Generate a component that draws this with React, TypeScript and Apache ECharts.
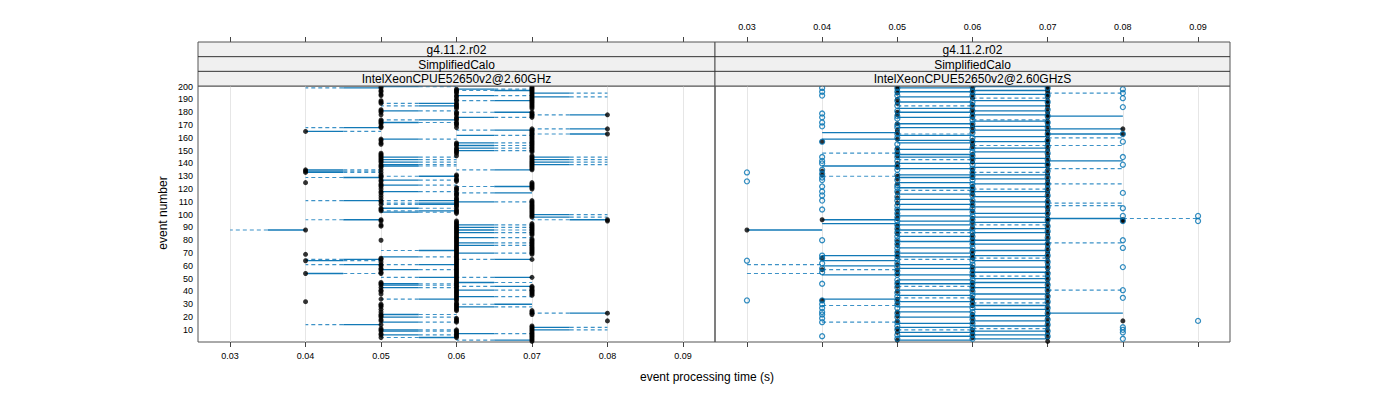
import React, { useEffect, useRef } from "react";
import * as echarts from "echarts";

// ---------- text / ticks ----------
const xTickValues = [0.03, 0.04, 0.05, 0.06, 0.07, 0.08, 0.09];
const yTickValues = [10, 20, 30, 40, 50, 60, 70, 80, 90, 100, 110, 120, 130, 140, 150, 160, 170, 180, 190, 200];
const stripTopLabels = ["g4.11.2.r02", "g4.11.2.r02"];
const stripMidLabels = ["SimplifiedCalo", "SimplifiedCalo"];
const stripBottomLabels = ["IntelXeonCPUE52650v2@2.60GHz", "IntelXeonCPUE52650v2@2.60GHzS"];
const xAxisTitle = "event processing time (s)";
const yAxisTitle = "event number";

// ---------- left panel data (times in ms) ----------
// [event, own time, other time]
const leftSegments = [
  [199, 50, 40], [168, 50, 40], [165, 40, 50], [135, 40, 50], [134, 40, 50], [133, 40, 50], [129, 50, 40],
  [111, 50, 40], [96, 50, 40], [88, 40, 30], [65, 50, 40], [64, 40, 50], [61, 50, 40], [54, 40, 50], [14, 50, 40],
  [200, 50, 60], [187, 60, 50], [185, 60, 50], [181, 50, 60], [174, 60, 50], [172, 50, 60], [159, 50, 60],
  [145, 50, 60], [143, 50, 60], [141, 50, 60], [139, 50, 60], [138, 50, 60], [130, 60, 50], [127, 50, 60],
  [123, 50, 60], [118, 50, 60], [111, 60, 50], [109, 60, 50], [108, 60, 50], [105, 50, 60], [103, 60, 50],
  [102, 50, 60], [72, 60, 50], [67, 50, 60], [61, 60, 50], [57, 50, 60], [51, 60, 50], [46, 50, 60], [45, 50, 60],
  [43, 50, 60], [34, 60, 50], [22, 50, 60], [20, 50, 60], [16, 50, 60], [10, 50, 60], [9, 50, 60], [6, 50, 60], [4, 60, 50],
  [198, 60, 70], [197, 70, 60], [193, 60, 70], [189, 70, 60], [180, 70, 60], [176, 60, 70], [166, 70, 60],
  [162, 60, 70], [156, 60, 70], [154, 60, 70], [152, 60, 70], [150, 60, 70], [135, 70, 60], [122, 70, 60],
  [117, 70, 60], [110, 60, 70], [92, 60, 70], [90, 60, 70], [88, 60, 70], [86, 60, 70], [82, 60, 70], [78, 60, 70],
  [76, 60, 70], [70, 60, 70], [65, 70, 60], [51, 70, 60], [47, 60, 70], [44, 70, 60], [41, 60, 70], [36, 60, 70],
  [30, 70, 60], [28, 60, 70], [7, 60, 70], [2, 70, 60],
  [195, 70, 80], [192, 70, 80], [178, 80, 70], [167, 80, 70], [163, 80, 70], [145, 70, 80], [143, 70, 80],
  [141, 70, 80], [139, 70, 80], [100, 70, 80], [98, 70, 80], [96, 80, 70], [23, 80, 70], [12, 70, 80], [10, 70, 80],
];
const leftDots40 = [165, 135, 134, 133, 125, 88, 69, 64, 54, 32];
const leftDots50 = [200, 199, 197, 196, 194, 193, 189, 188, 187, 182, 181, 180, 178, 174, 173, 172, 171, 169, 168, 159, 158, 156, 155, 148, 147, 146, 145, 144, 143, 142, 141, 139, 138, 137, 135, 133, 131, 130, 129, 127, 126, 124, 123, 122, 120, 118, 117, 115, 113, 111, 110, 108, 105, 104, 103, 96, 95, 92, 91, 80, 66, 65, 63, 61, 60, 58, 57, 55, 54, 47, 46, 45, 43, 41, 40, 38, 34, 30, 29, 28, 26, 24, 22, 21, 20, 18, 17, 14, 11, 10, 9, 7, 6, 4];
const leftDots60 = [198, 197, 196, 195, 193, 192, 190, 189, 187, 186, 185, 184, 183, 180, 179, 178, 176, 175, 174, 172, 171, 170, 168, 156, 155, 154, 152, 151, 150, 149, 148, 146, 131, 130, 128, 127, 126, 121, 120, 119, 117, 116, 115, 113, 112, 111, 110, 109, 108, 107, 106, 104, 103, 102, 101, 95, 94, 93, 92, 91, 90, 89, 88, 87, 86, 85, 84, 83, 82, 81, 80, 79, 78, 77, 76, 75, 74, 73, 72, 71, 70, 69, 68, 67, 66, 65, 64, 63, 62, 61, 60, 59, 58, 57, 56, 55, 54, 53, 52, 51, 50, 49, 48, 47, 46, 45, 44, 43, 42, 41, 40, 39, 38, 37, 36, 35, 34, 33, 31, 30, 29, 28, 27, 26, 25, 19, 18, 17, 16, 10, 9, 8, 7, 6, 5, 4];
const leftDots70 = [200, 199, 198, 197, 196, 195, 194, 193, 192, 191, 190, 189, 188, 187, 186, 185, 184, 183, 180, 179, 178, 177, 176, 167, 166, 165, 164, 163, 162, 161, 160, 159, 158, 157, 156, 155, 154, 153, 152, 151, 150, 149, 146, 145, 144, 143, 142, 141, 140, 139, 138, 137, 136, 135, 125, 124, 123, 122, 121, 120, 111, 110, 109, 108, 107, 106, 105, 104, 103, 102, 101, 100, 99, 98, 93, 92, 91, 90, 89, 88, 87, 86, 85, 84, 81, 80, 79, 78, 77, 76, 75, 74, 73, 72, 71, 70, 69, 65, 51, 44, 43, 42, 41, 40, 39, 38, 37, 25, 24, 23, 22, 13, 12, 11, 10, 9, 8, 7, 6, 5, 4, 3, 2, 1];
const leftDots80 = [178, 167, 163, 96, 95, 23, 17];

// ---------- right panel data (events per band / column) ----------
const rightSolid3040 = [88];
const rightSolid4050 = [164, 159, 138, 96, 93, 68, 64, 60, 53, 34];
const rightSolid5060 = [199, 196, 192, 188, 183, 180, 176, 171, 168, 162, 158, 156, 151, 147, 145, 140, 136, 131, 129, 125, 121, 116, 112, 108, 104, 99, 95, 92, 88, 83, 79, 74, 70, 67, 61, 58, 53, 49, 46, 41, 37, 32, 28, 24, 20, 15, 12, 8, 5, 2];
const rightSolid6070 = [200, 197, 194, 189, 185, 181, 178, 173, 169, 166, 161, 157, 152, 149, 144, 140, 137, 131, 128, 124, 118, 114, 110, 106, 101, 98, 94, 89, 86, 80, 77, 72, 68, 64, 59, 55, 50, 47, 43, 38, 34, 29, 26, 21, 17, 13, 9, 6, 3];
const rightSolid7080 = [177, 167, 163, 142, 97, 23];
const rightDashed3040 = [61, 54];
const rightDashed4050 = [148, 130, 57, 29, 16];
const rightDashed5060 = [185, 163, 143, 119, 86, 65, 44, 35, 10];
const rightDashed6070 = [191, 174, 154, 133, 120, 92, 66, 52, 31, 11];
const rightDashed7080 = [195, 160, 154, 136, 124, 109, 107, 78, 41];
const rightDashed8090 = [97];

const rightBlack30 = [88];
const rightBlack40 = [157, 134, 131, 96, 66, 57, 33];
const rightBlack50 = [200, 198, 195, 190, 187, 180, 178, 171, 166, 164, 159, 152, 149, 146, 140, 137, 130, 128, 124, 117, 113, 109, 103, 100, 97, 91, 88, 85, 79, 76, 70, 67, 61, 57, 54, 47, 44, 40, 34, 31, 24, 21, 17, 11, 8, 2];
const rightBlack60 = [199, 197, 194, 191, 186, 182, 179, 176, 170, 168, 165, 158, 155, 153, 147, 144, 141, 135, 132, 129, 122, 119, 116, 110, 107, 103, 97, 94, 90, 84, 81, 78, 72, 69, 66, 59, 56, 53, 47, 44, 41, 35, 32, 29, 22, 19, 16, 10, 7, 4];
const rightBlack70 = [200, 198, 196, 194, 192, 189, 187, 185, 183, 180, 178, 176, 173, 171, 169, 166, 164, 162, 159, 157, 155, 152, 150, 147, 145, 142, 140, 138, 135, 132, 130, 127, 125, 122, 119, 117, 114, 111, 108, 105, 103, 100, 97, 95, 92, 89, 86, 84, 81, 78, 75, 72, 70, 67, 64, 61, 58, 55, 52, 49, 46, 43, 40, 37, 34, 31, 28, 25, 22, 19, 16, 13, 10, 7, 4, 1];
const rightBlack80 = [167, 163, 96, 95, 17];

const rightBlue30 = [133, 126, 64, 33];
const rightBlue40 = [199, 196, 193, 179, 176, 172, 169, 157, 145, 142, 140, 135, 132, 129, 127, 122, 118, 115, 111, 104, 80, 68, 66, 62, 58, 55, 46, 33, 30, 27, 24, 22, 19, 16, 5];
const rightBlue50 = [199, 196, 193, 189, 185, 181, 177, 175, 170, 168, 163, 160, 155, 151, 148, 145, 142, 138, 135, 131, 127, 123, 121, 118, 114, 111, 107, 104, 101, 98, 95, 92, 89, 86, 83, 80, 77, 74, 71, 68, 65, 62, 59, 56, 53, 49, 46, 43, 39, 36, 33, 30, 27, 23, 20, 16, 13, 10, 6, 3];
const rightBlue60 = [200, 196, 193, 188, 185, 181, 177, 174, 171, 167, 164, 160, 157, 152, 149, 146, 143, 139, 136, 133, 130, 127, 124, 121, 118, 115, 111, 108, 105, 102, 99, 96, 93, 89, 86, 83, 80, 77, 74, 71, 67, 64, 61, 58, 55, 52, 49, 46, 43, 40, 37, 34, 30, 27, 24, 21, 18, 15, 12, 9, 6, 3];
const rightBlue70 = [199, 193, 188, 182, 177, 172, 168, 163, 158, 153, 148, 143, 139, 134, 129, 124, 120, 115, 110, 106, 101, 96, 91, 87, 82, 77, 73, 68, 63, 59, 54, 50, 45, 41, 36, 32, 27, 23, 18, 14, 9, 5];
const rightBlue80 = [198, 195, 191, 184, 163, 157, 145, 139, 117, 105, 99, 95, 80, 74, 59, 41, 35, 12, 10, 8, 3];
const rightBlue90 = [99, 95, 17];

// ---------- styling / layout ----------
const FONT = '"Liberation Sans", Arial, Helvetica, sans-serif';
const BLUE = "#0072B2";
const BLUE_LINE = "#1279b6";
const BLUE_DASH = "#3d92c7";
const PANELS = [
  { left: 198, width: 517 },
  { left: 715, width: 515 },
];
const PLOT_TOP = 86;
const PLOT_H = 256;
const STRIP_TOP = 42;
const STRIP_H = 14.67;
const X_MIN = 0.02575;
const X_MAX = 0.09425;
const Y_MIN = 0.5;
const Y_MAX = 200.5;

const sec = (msVal: number) => msVal / 1000;

function bandSegments(events: number[], a: number, b: number, dashed: number) {
  return events.map((e) => [sec(a), e, sec(b), dashed]);
}
function columnPoints(events: number[], t: number) {
  return events.map((e) => [sec(t), e]);
}

export default function App() {
  const ref = useRef<HTMLDivElement>(null);

  useEffect(() => {
    if (!ref.current) return;
    const chart = echarts.init(ref.current, undefined, { renderer: "svg" });

    const leftSegData = leftSegments.map(([e, a, b]) => [sec(a), e, sec(b)]);
    const leftDotData = [
      ...columnPoints(leftDots40, 40),
      ...columnPoints(leftDots50, 50),
      ...columnPoints(leftDots60, 60),
      ...columnPoints(leftDots70, 70),
      ...columnPoints(leftDots80, 80),
    ];
    const rightSegData = [
      ...bandSegments(rightDashed3040, 30, 40, 1),
      ...bandSegments(rightDashed4050, 40, 50, 1),
      ...bandSegments(rightDashed5060, 50, 60, 1),
      ...bandSegments(rightDashed6070, 60, 70, 1),
      ...bandSegments(rightDashed7080, 70, 80, 1),
      ...bandSegments(rightDashed8090, 80, 90, 1),
      ...bandSegments(rightSolid3040, 30, 40, 0),
      ...bandSegments(rightSolid4050, 40, 50, 0),
      ...bandSegments(rightSolid5060, 50, 60, 0),
      ...bandSegments(rightSolid6070, 60, 70, 0),
      ...bandSegments(rightSolid7080, 70, 80, 0),
    ];
    const rightBlackData = [
      ...columnPoints(rightBlack30, 30),
      ...columnPoints(rightBlack40, 40),
      ...columnPoints(rightBlack50, 50),
      ...columnPoints(rightBlack60, 60),
      ...columnPoints(rightBlack70, 70),
      ...columnPoints(rightBlack80, 80),
    ];
    const rightBlueData = [
      ...columnPoints(rightBlue30, 30),
      ...columnPoints(rightBlue40, 40),
      ...columnPoints(rightBlue50, 50),
      ...columnPoints(rightBlue60, 60),
      ...columnPoints(rightBlue70, 70),
      ...columnPoints(rightBlue80, 80),
      ...columnPoints(rightBlue90, 90),
    ];

    const tickStyle = { show: true, length: 5, customValues: xTickValues, lineStyle: { color: "#444", width: 1 } };
    const labelStyle = (show: boolean, margin: number) => ({
      show,
      customValues: xTickValues,
      fontSize: 9,
      fontFamily: FONT,
      color: "#000",
      margin,
      formatter: (v: number) => v.toFixed(2),
    });
    const splitStyle = { show: true, lineStyle: { color: "#e6e6e6", width: 1 } };

    const xAxes: any[] = [];
    PANELS.forEach((_, i) => {
      xAxes.push({
        type: "value", gridIndex: i, position: "bottom", min: X_MIN, max: X_MAX,
        axisLine: { show: false }, axisTick: tickStyle,
        axisLabel: labelStyle(i === 0, 9), splitLine: splitStyle,
      });
      xAxes.push({
        type: "value", gridIndex: i, position: "top", offset: PLOT_TOP - STRIP_TOP, min: X_MIN, max: X_MAX,
        axisLine: { show: false }, axisTick: tickStyle,
        axisLabel: labelStyle(i === 1, 11), splitLine: { show: false },
      });
    });
    const yAxes: any[] = PANELS.map((_, i) => ({
      type: "value", gridIndex: i, min: Y_MIN, max: Y_MAX,
      axisLine: { show: false }, axisTick: { show: false },
      axisLabel: {
        show: i === 0, customValues: yTickValues, fontSize: 9, fontFamily: FONT, color: "#000", margin: 5,
      },
      splitLine: { show: false },
    }));

    const graphics: any[] = [];
    PANELS.forEach((p, i) => {
      graphics.push({
        type: "rect", z: 10,
        shape: { x: p.left, y: STRIP_TOP, width: p.width, height: STRIP_H * 3 },
        style: { fill: "#f0f0f0", stroke: "#555", lineWidth: 1 },
      });
      [1, 2].forEach((k) => {
        graphics.push({
          type: "line", z: 11,
          shape: { x1: p.left, y1: STRIP_TOP + STRIP_H * k, x2: p.left + p.width, y2: STRIP_TOP + STRIP_H * k },
          style: { stroke: "#333", lineWidth: 1 },
        });
      });
      [stripTopLabels[i], stripMidLabels[i], stripBottomLabels[i]].forEach((t, k) => {
        graphics.push({
          type: "text", z: 12,
          x: p.left + p.width / 2, y: STRIP_TOP + STRIP_H * k + STRIP_H / 2 + 0.5,
          style: { text: t, fill: "#000", font: `12px ${FONT}`, textAlign: "center", textVerticalAlign: "middle" },
        });
      });
    });
    graphics.push({
      type: "text", x: 707, y: 377,
      style: { text: xAxisTitle, fill: "#000", font: `12px ${FONT}`, textAlign: "center", textVerticalAlign: "middle" },
    });
    graphics.push({
      type: "text", x: 163, y: 213, rotation: Math.PI / 2,
      style: { text: yAxisTitle, fill: "#000", font: `12px ${FONT}`, textAlign: "center", textVerticalAlign: "middle" },
    });

    const option: any = {
      animation: false,
      backgroundColor: "#fff",
      textStyle: { fontFamily: FONT },
      grid: PANELS.map((p) => ({
        left: p.left, top: PLOT_TOP, width: p.width, height: PLOT_H,
        show: true, borderColor: "#555", borderWidth: 1, backgroundColor: "transparent",
      })),
      xAxis: xAxes,
      yAxis: yAxes,
      graphic: graphics,
      series: [
        {
          type: "custom", xAxisIndex: 0, yAxisIndex: 0, data: leftSegData,
          encode: { x: [0, 2], y: 1 }, clip: true, silent: true, z: 2,
          renderItem: (params: any, api: any) => {
            const a = api.value(0), e = api.value(1), b = api.value(2);
            const p1 = api.coord([a, e]);
            const pm = api.coord([(a + b) / 2, e]);
            const p2 = api.coord([b, e]);
            return {
              type: "group",
              children: [
                { type: "line", shape: { x1: p1[0], y1: p1[1], x2: pm[0], y2: pm[1] }, style: { stroke: BLUE_LINE, lineWidth: 1.3 } },
                { type: "line", shape: { x1: pm[0], y1: pm[1], x2: p2[0], y2: p2[1] }, style: { stroke: BLUE_DASH, lineWidth: 1.2, lineDash: [4, 3] } },
              ],
            };
          },
        },
        {
          type: "scatter", xAxisIndex: 0, yAxisIndex: 0, data: leftDotData, symbol: "circle", symbolSize: 5,
          itemStyle: { color: "#000" }, silent: true, z: 3,
        },
        {
          type: "custom", xAxisIndex: 2, yAxisIndex: 1, data: rightSegData,
          encode: { x: [0, 2], y: 1 }, clip: true, silent: true, z: 2,
          renderItem: (params: any, api: any) => {
            const a = api.value(0), e = api.value(1), b = api.value(2), d = api.value(3);
            const p1 = api.coord([a, e]);
            const p2 = api.coord([b, e]);
            return {
              type: "line",
              shape: { x1: p1[0], y1: p1[1], x2: p2[0], y2: p2[1] },
              style: d ? { stroke: BLUE_DASH, lineWidth: 1.2, lineDash: [4, 3] } : { stroke: BLUE_LINE, lineWidth: 1.3 },
            };
          },
        },
        {
          type: "scatter", xAxisIndex: 2, yAxisIndex: 1, data: rightBlackData, symbol: "circle", symbolSize: 5,
          itemStyle: { color: "#000" }, silent: true, z: 3,
        },
        {
          type: "scatter", xAxisIndex: 2, yAxisIndex: 1, data: rightBlueData, symbol: "circle", symbolSize: 5,
          itemStyle: { color: "transparent", borderColor: BLUE, borderWidth: 1.3 }, silent: true, z: 4,
        },
      ],
    };

    chart.setOption(option);
    return () => chart.dispose();
  }, []);

  return (
    <div
      ref={ref}
      style={{ position: "absolute", left: 0, top: 0, width: 1400, height: 400, background: "#fff" }}
    />
  );
}
